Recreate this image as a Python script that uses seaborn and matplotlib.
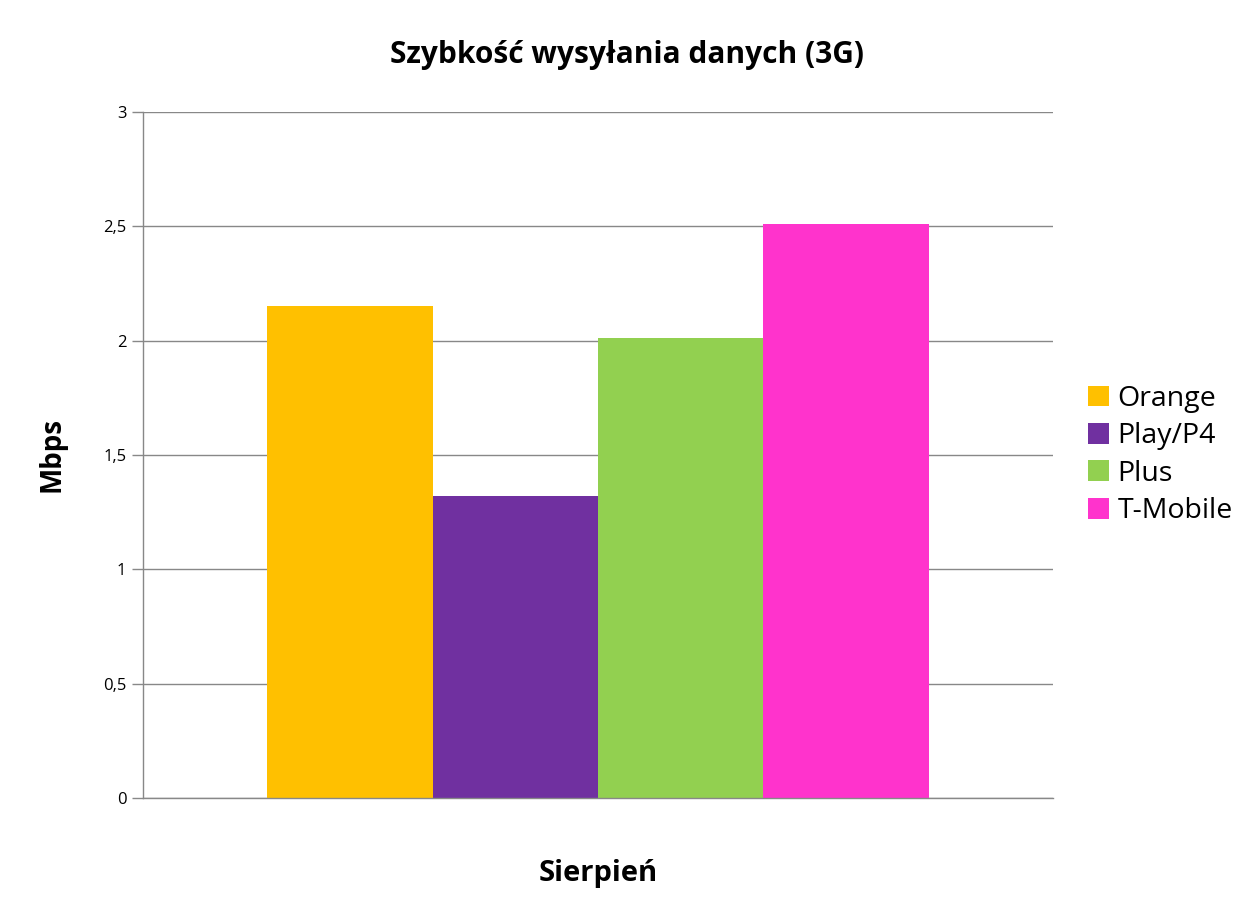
import numpy as np
import pandas as pd
import seaborn as sns
import matplotlib.pyplot as plt
from matplotlib.patches import Patch

# Data
months = ["Sierpień"]
operators = ["Orange", "Play/P4", "Plus", "T-Mobile"]
speeds = [2.15, 1.32, 2.01, 2.51]
colors = ["#FFC000", "#7030A0", "#92D050", "#FF33CC"]
y_ticks = [0, 0.5, 1, 1.5, 2, 2.5, 3]
y_labels = ["0", "0,5", "1", "1,5", "2", "2,5", "3"]

df = pd.DataFrame({
    "Miesiąc": months * len(operators),
    "Operator": operators,
    "Mbps": speeds,
})

sns.set_theme(style="white")
plt.rcParams['font.family'] = ['Open Sans', 'DejaVu Sans']
plt.rcParams['text.color'] = 'black'
plt.rcParams['axes.labelcolor'] = 'black'
plt.rcParams['ytick.labelcolor'] = 'black'

fig = plt.figure(figsize=(12.54, 9.07), dpi=100)
ax = fig.add_axes([0.114, 0.1202, 0.7257, 0.7563])

sns.barplot(data=df, x="Miesiąc", y="Mbps", hue="Operator", hue_order=operators,
            palette=colors, width=0.727, saturation=1, ax=ax, legend=False,
            edgecolor="none", linewidth=0)

ax.set_ylim(0, 3)
ax.set_xlim(-0.5, 0.5)
ax.set_yticks(y_ticks)
ax.set_yticklabels(y_labels, fontsize=12)
ax.set_xticks([])
ax.yaxis.grid(True, color="#888888", linewidth=1)
ax.set_axisbelow(True)
ax.tick_params(axis="y", length=8, width=1, color="#888888", pad=4, left=True)

for s in ["top", "right"]:
    ax.spines[s].set_visible(False)
for s in ["left", "bottom"]:
    ax.spines[s].set_color("#888888")
    ax.spines[s].set_linewidth(1)

ax.set_ylabel("Mbps", fontsize=20, fontweight="bold", labelpad=26)
ax.set_xlabel("Sierpień", fontsize=21, fontweight="bold", labelpad=44)
fig.suptitle("Szybkość wysyłania danych (3G)", fontsize=21.5, fontweight="bold",
             x=0.5, y=1 - 55 / 907, va="center")

handles = [Patch(facecolor=c, edgecolor="none") for c in colors]
ax.legend(handles, operators, loc="center left", bbox_to_anchor=(1.01, 0.5),
          frameon=False, fontsize=20.5, handlelength=0.75, handleheight=0.75,
          handletextpad=0.3, labelspacing=0.33)

fig.savefig("out.png", dpi=100)
